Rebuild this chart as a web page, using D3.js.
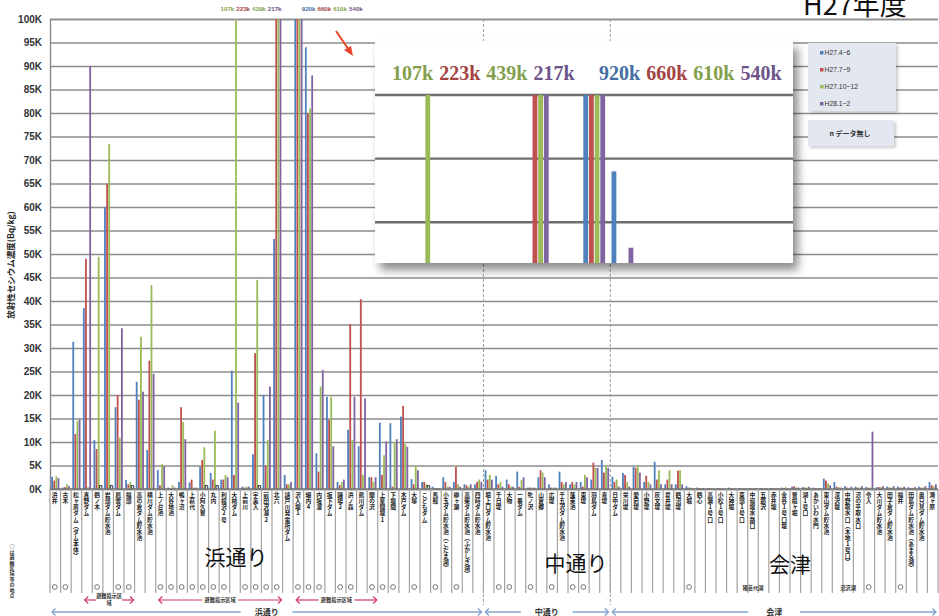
<!DOCTYPE html>
<html>
<head>
<meta charset="utf-8">
<script src="https://cdn.jsdelivr.net/npm/d3@7"></script>
<style>
  html, body { margin: 0; padding: 0; background: #fff; }
  svg { display: block; font-family: "Liberation Sans", "Noto Sans CJK JP", sans-serif; }
  text.vt { writing-mode: vertical-rl; text-orientation: upright; }
</style>
</head>
<body>
<svg id="chart" width="939" height="616"></svg>
<script>
// Sampling points (浜通り 41, 中通り 12, 会津 31)
const categories = [
  "浜井","古木","松ヶ房ダム(ダム本体)","真野ダム","鶴ノ木","岩部ダム貯水池","鳳雲ダム","福部","高の倉ダム貯水池","横川ダム貯水池",
  "上ノ台池","大谷地池","鴨ヶ沼","上萩代","小阿久曽","丸内","利根沢2号","大柿ダム","上前川","宇美入",
  "前田沢溜2","北六","請戸川発電所ダム","沢入堰1","細内4","内坂溜","坂下ダム","踊場2","浜ノ森","熊川ダム",
  "関の沢","上星間堰1","下堰間","木戸ダム","大塚","こどもダム","馬鞍","小玉ダム貯水池(こだま湖)","柳ヶ瀬","高柴ダム貯水池(ふかしぎ湖)",
  "四時ダム貯水池",
  "堀上口ダム貯水池","千日堤","大物","一番ダム","牝ノ沢","山倉郷","広堤","千五沢ダム貯水池","蓬莱池","東堤","羽鳥ダム","青堤",
  "日中ダム","栄川堤","愛宕堤","小野堤","灰文堤","夏井堤","鶴沼堤","大堀","鶴心","高瀬1号口",
  "小松1号口","大神堀","東部1号口","中嶺堰水路口","五郎沢","赤井堰","金谷1号口堰","曽根ヶ堀","湖1号口","あかいわ水門",
  "東山ダム貯水池","深沢堰","中野取水口(木地1号口)","沼の平取水口","令入","大川ダム貯水池","田子倉ダム貯水池","福井","田島ダム貯水池(あまる湖)","奥只見ダム貯水池",
  "滝ヶ原"
];

const seriesNames = ["H27.4~6", "H27.7~9", "H27.10~12", "H28.1~2"];
const seriesColors = ["#4f81bd", "#c0504d", "#9bbb59", "#8064a2"];

// Radiocesium concentration, thousands of Bq/kg (null = no data)
const q1 = [2.6,0.3,31.3,38.5,10.4,60.0,17.4,1.9,22.8,8.3,
  4.0,0.3,1.5,1.4,4.7,3.4,2.0,25.2,0.5,7.4,
  20.0,53.2,3.0,920,94.0,7.6,19.6,1.5,12.6,9.1,
  2.5,14.1,14.0,15.4,2.1,1.5,0.5,2.5,1.5,1.0,
  1.0,
  4.0,2.8,2.0,3.7,0.3,2.5,1.0,3.7,1.0,1.5,2.0,6.2,
  2.6,3.4,4.7,1.5,5.8,1.0,1.0,0.6,0.3,0.2,
  0.2,0.3,0.2,0.2,0.2,0.2,0.3,0.5,0.4,0.3,
  2.2,1.5,0.6,0.5,0.4,0.4,0.5,0.5,0.4,0.5,
  1.5];
const q2 = [1.8,0.4,11.7,49.0,8.5,65.0,20.0,1.0,19.0,27.3,
  0.8,0.2,17.4,2.0,6.2,2.0,2.0,3.0,0.3,28.9,
  5.0,223,1.0,660,80.0,3.7,14.7,0.8,35.1,40.4,
  2.5,3.0,0.5,17.7,1.0,1.5,0.2,1.5,4.7,0.8,
  1.5,
  2.0,1.0,1.0,0.5,0.3,4.0,0.3,1.5,1.5,0.5,5.6,3.5,
  1.5,3.0,4.5,2.8,2.0,2.0,3.9,0.3,0.2,0.2,
  0.1,0.2,0.1,0.1,0.1,0.2,0.2,0.6,0.3,0.2,
  1.8,0.5,0.3,0.3,0.3,0.4,0.3,0.3,0.2,0.3,
  0.8];
const q3 = [2.7,1.0,14.5,0.4,49.4,73.4,10.9,1.5,32.4,43.4,
  5.3,0.8,14.3,0.3,8.9,12.4,3.0,107,0.5,44.5,
  10.4,439,1.0,610,81.0,21.8,19.6,1.5,10.4,3.0,
  1.5,7.2,10.0,9.6,4.9,1.0,0.2,0.5,1.0,0.5,
  2.0,
  3.0,1.5,0.5,2.0,0.3,3.5,0.3,1.0,1.0,3.0,4.5,5.0,
  2.0,1.5,4.9,1.5,4.0,4.0,4.0,0.3,0.2,0.1,
  0.1,0.1,0.1,0.2,0.1,0.1,0.4,0.3,0.3,0.2,
  1.2,0.4,0.2,0.3,0.3,0.4,0.3,0.3,0.2,0.3,
  0.6];
const q4 = [2.3,0.6,14.8,90.0,null,null,34.2,null,20.7,24.5,
  4.8,0.3,10.6,0.3,null,null,2.5,18.4,0.5,null,
  21.8,217,1.5,540,88.0,25.3,9.1,2.0,19.6,19.3,
  2.5,10.1,10.6,9.0,4.0,null,0.2,0.5,0.5,1.0,
  1.5,
  2.0,0.5,0.5,2.5,0.3,2.5,0.3,1.5,1.5,2.5,4.5,4.5,
  0.5,0.5,3.5,1.0,1.0,1.0,1.0,0.2,0.2,0.1,
  0.1,0.1,0.1,0.1,0.1,0.1,0.2,0.3,0.5,0.2,
  0.8,0.3,0.5,0.6,12.2,0.6,0.6,0.5,0.4,0.6,
  1.0];

const yTicks = d3.range(0, 101, 5);
const yTickLabels = yTicks.map(d => d + "K");

// Regions: first and last category index
const regionNames = ["浜通り", "中通り", "会津"];
const regionFirst = [0, 41, 53];
const regionLast = [40, 52, 83];

// Evacuation-order zones (category index ranges) and points inside such zones
const zoneFirst = [3, 10, 23];
const zoneLast = [7, 21, 30];
const zoneMarked = [0,1,4,6,7,10,11,12,13,14,15,16,18,19,20,21,23,24,25,27,28,30,31,32,34,36,38,42,43,45,47,49,50,60,77,80];

// Sub-area notes in 会津
const subAreaNames = ["猪苗代湖", "沼沢湖"];
const subAreaAt = [66, 75];

const series = [q1, q2, q3, q4];

// ---------- layout ----------
const M = { left: 50, right: 938, top: 19, bottom: 489 };
const svg = d3.select("#chart");
const JP = "Noto Sans CJK JP, sans-serif";

const defs = svg.append("defs");
const shadow = defs.append("filter").attr("id", "shadow")
  .attr("x", "-10%").attr("y", "-10%").attr("width", "130%").attr("height", "135%");
shadow.append("feDropShadow").attr("dx", 5).attr("dy", 7).attr("stdDeviation", 5)
  .attr("flood-color", "#000").attr("flood-opacity", 0.45);
const softShadow = defs.append("filter").attr("id", "soft")
  .attr("x", "-10%").attr("y", "-10%").attr("width", "130%").attr("height", "140%");
softShadow.append("feDropShadow").attr("dx", 2).attr("dy", 2).attr("stdDeviation", 1.5)
  .attr("flood-color", "#000").attr("flood-opacity", 0.2);

// Top-to-bottom Japanese text
const verticalForms = { "(": "︵", ")": "︶", "ー": "︱" };
function vtext(g, str, x, yTop, fs, spacing, attrs) {
  const t = g.append("text").attr("class", "vt")
    .attr("x", x).attr("y", yTop)
    .attr("font-size", fs).attr("font-family", JP)
    .attr("letter-spacing", spacing)
    .text(Array.from(str).map(ch => verticalForms[ch] || ch).join(""));
  Object.entries(attrs || {}).forEach(([k, v]) => t.attr(k, v));
  return t;
}

const x0 = d3.scaleBand().domain(d3.range(categories.length)).range([M.left, M.right]);
const bw = x0.bandwidth();
const x1 = d3.scaleBand().domain(d3.range(4)).range([1.2, bw - 1.2]).paddingInner(0.15);
const y = d3.scaleLinear().domain([0, 100]).range([M.bottom, M.top]);

// Gridlines + tick labels
const yAxis = d3.axisLeft(y).tickValues(yTicks)
  .tickFormat((d, i) => yTickLabels[i])
  .tickSize(-(M.right - M.left)).tickPadding(8);
const gAxis = svg.append("g").attr("transform", `translate(${M.left},0)`).call(yAxis);
gAxis.select(".domain").attr("stroke", "#8a8a8a").attr("stroke-width", 1.4);
gAxis.selectAll(".tick line").attr("stroke", "#8c8c8c").attr("stroke-width", 1.4);
gAxis.selectAll(".tick text").attr("font-size", 10).attr("font-weight", "bold")
  .attr("fill", "#333").attr("font-family", "Liberation Sans, sans-serif");

// Y axis title
svg.append("text")
  .attr("transform", "translate(14,265) rotate(-90)")
  .attr("text-anchor", "middle")
  .attr("font-size", 8.5).attr("font-weight", "bold").attr("fill", "#222")
  .attr("font-family", JP)
  .text("放射性セシウム濃度(Bq/kg)");

// Region separators (dashed)
regionFirst.slice(1).forEach(i => {
  svg.append("line")
    .attr("x1", x0(i)).attr("x2", x0(i)).attr("y1", M.top).attr("y2", 605)
    .attr("stroke", "#9a9a9a").attr("stroke-width", 1).attr("stroke-dasharray", "3,2");
});

// Bars
const barData = [];
series.forEach((arr, s) => arr.forEach((v, i) => barData.push({ i, s, v })));
barData.sort((a, b) => a.i - b.i || a.s - b.s);

svg.append("g").selectAll("rect")
  .data(barData.filter(d => d.v != null))
  .join("rect")
  .attr("x", d => x0(d.i) + x1(d.s))
  .attr("width", x1.bandwidth())
  .attr("y", d => y(Math.min(d.v, 100)))
  .attr("height", d => y(0) - y(Math.min(d.v, 100)))
  .attr("fill", d => seriesColors[d.s]);

// "n" = no data markers
svg.append("g").selectAll("text")
  .data(barData.filter(d => d.v == null))
  .join("text")
  .attr("x", d => x0(d.i) + x1(d.s) + x1.bandwidth() / 2)
  .attr("y", M.bottom - 0.5)
  .attr("text-anchor", "middle")
  .attr("font-size", 7).attr("font-weight", "bold").attr("fill", "#222")
  .text("n");

// Baseline
svg.append("line").attr("x1", M.left).attr("x2", M.right).attr("y1", y(0)).attr("y2", y(0))
  .attr("stroke", "#777").attr("stroke-width", 1.4);

// Category label cells
const gCells = svg.append("g");
gCells.selectAll("line")
  .data(d3.range(categories.length + 1))
  .join("line")
  .attr("x1", i => i < categories.length ? x0(i) : M.right)
  .attr("x2", i => i < categories.length ? x0(i) : M.right)
  .attr("y1", M.bottom).attr("y2", 593)
  .attr("stroke", "#a2a2a2").attr("stroke-width", 1.2);

categories.forEach((name, i) => {
  vtext(gCells, name, x0(i) + bw * 0.45, 492, 5.8, 0.3,
        { "font-weight": "bold", fill: "#222" });
});

// Evacuation-zone point markers
svg.append("g").selectAll("circle")
  .data(zoneMarked)
  .join("circle")
  .attr("cx", i => x0(i) + bw / 2 - 0.5)
  .attr("cy", 587)
  .attr("r", 2.4)
  .attr("fill", "#fff").attr("stroke", "#555").attr("stroke-width", 0.8);

vtext(svg, "○は避難区域等の地点", 12, 544, 5, 0.4, { "font-weight": "bold", fill: "#333" });

// Sub-area notes (会津)
subAreaNames.forEach((name, k) => {
  svg.append("text")
    .attr("x", x0(subAreaAt[k]) + bw / 2).attr("y", 590)
    .attr("text-anchor", "middle")
    .attr("font-size", 5.2).attr("font-weight", "bold").attr("fill", "#333")
    .attr("font-family", JP)
    .text(name);
});

// Double-headed arrows with a centered label
function arrow(xa, xb, yy, color, lw, fs, gap, lines) {
  const g = svg.append("g");
  const mid = (xa + xb) / 2;
  g.append("line").attr("x1", xa).attr("x2", mid - gap).attr("y1", yy).attr("y2", yy)
    .attr("stroke", color).attr("stroke-width", lw);
  g.append("line").attr("x1", mid + gap).attr("x2", xb).attr("y1", yy).attr("y2", yy)
    .attr("stroke", color).attr("stroke-width", lw);
  const h = 3.5;
  g.append("path").attr("d", `M${xa + h},${yy - h}L${xa},${yy}L${xa + h},${yy + h}`)
    .attr("fill", "none").attr("stroke", color).attr("stroke-width", lw);
  g.append("path").attr("d", `M${xb - h},${yy - h}L${xb},${yy}L${xb - h},${yy + h}`)
    .attr("fill", "none").attr("stroke", color).attr("stroke-width", lw);
  const t = g.append("text").attr("x", mid).attr("text-anchor", "middle")
    .attr("font-size", fs).attr("font-weight", "bold").attr("fill", "#333")
    .attr("font-family", JP);
  const n = lines.length;
  lines.forEach((ln, k) => {
    t.append("tspan").attr("x", mid).attr("y", yy + fs * 0.35 + (k - (n - 1) / 2) * (fs + 1.5)).text(ln);
  });
}

zoneFirst.forEach((a, k) => {
  const b = zoneLast[k];
  const xa = x0(a) + 3, xb = x0(b) + bw - 1;
  const narrow = (xb - xa) < 60;
  arrow(xa, xb, 600, "#d2385e", 1.2, 5.2, narrow ? 13 : 18,
        narrow ? ["避難指示区", "域"] : ["避難指示区域"]);
});

regionNames.forEach((name, k) => {
  const xa = x0(regionFirst[k]) + 2, xb = x0(regionLast[k]) + bw - 2;
  arrow(xa, xb, 612, "#86a3cc", 1.4, 8, 26, [name]);
});

// Large region captions
const captionPos = [[236, 565], [576, 571], [790, 572]];
regionNames.forEach((name, k) => {
  svg.append("text")
    .attr("x", captionPos[k][0]).attr("y", captionPos[k][1])
    .attr("text-anchor", "middle")
    .attr("font-size", 21).attr("fill", "#111")
    .attr("font-family", JP)
    .text(name);
});

// Off-scale values written above the plot
const overflow = barData.filter(d => d.v != null && d.v > 100);
const breakAt = 23;
const groupA = overflow.filter(d => d.i < breakAt);
const groupB = overflow.filter(d => d.i >= breakAt);
function overflowRow(items, xPos, yPos, anchor, fs, family, gapDx, weight) {
  const t = svg.append("text").attr("x", xPos).attr("y", yPos)
    .attr("text-anchor", anchor).attr("font-size", fs).attr("font-weight", weight)
    .attr("font-family", family);
  items.forEach((d, k) => {
    t.append("tspan").attr("dx", k ? gapDx : 0)
      .attr("fill", d3.color(seriesColors[d.s]).darker(0.45))
      .text(d.v + "k");
  });
  return t;
}
overflowRow(groupA, x0(21) + bw - 1, 11, "end", 6.2, "Liberation Sans, sans-serif", 2, "bold");
overflowRow(groupB, x0(23) + bw - 2, 11, "start", 6.2, "Liberation Sans, sans-serif", 2, "bold");

// Pointer arrow to the magnified view
svg.append("line").attr("x1", 336).attr("y1", 31).attr("x2", 349).attr("y2", 50)
  .attr("stroke", "#e8442c").attr("stroke-width", 2);
svg.append("path").attr("d", "M353,56L344,50L351,46Z").attr("fill", "#e8442c");

// Magnified view of the off-scale bars
const inset = { x: 375, y: 41, w: 418, h: 222 };
const xi = d3.scaleLinear().domain([216.3, 372.9]).range([inset.x, inset.x + inset.w]);
const yi = d3.scaleLinear().domain([86.8, 100]).range([inset.y + inset.h, 95]);
const kx = (xi(1) - xi(0));

defs.append("clipPath").attr("id", "insetClip").append("rect")
  .attr("x", inset.x).attr("y", inset.y).attr("width", inset.w).attr("height", inset.h);

svg.append("rect").attr("x", inset.x).attr("y", inset.y)
  .attr("width", inset.w).attr("height", inset.h)
  .attr("fill", "#fff").attr("filter", "url(#shadow)");

const gIn = svg.append("g").attr("clip-path", "url(#insetClip)");
gIn.selectAll("line.ig")
  .data([90, 95, 100])
  .join("line").attr("class", "ig")
  .attr("x1", inset.x).attr("x2", inset.x + inset.w)
  .attr("y1", d => yi(d)).attr("y2", d => yi(d))
  .attr("stroke", "#6e6e6e").attr("stroke-width", 2.4);
gIn.selectAll("rect")
  .data(barData.filter(d => d.v != null && d.v > 86.8))
  .join("rect")
  .attr("x", d => xi(x0(d.i) + x1(d.s)))
  .attr("width", x1.bandwidth() * kx)
  .attr("y", d => yi(Math.min(d.v, 100)))
  .attr("height", d => yi(86.8) - yi(Math.min(d.v, 100)) + 2)
  .attr("fill", d => seriesColors[d.s]);

overflowRow(groupA, inset.x + 17, 80, "start", 20, "Liberation Serif, serif", 6, "bold");
overflowRow(groupB, inset.x + 224, 80, "start", 20, "Liberation Serif, serif", 6, "bold");

// Legend
const lg = svg.append("g");
lg.append("rect").attr("x", 808).attr("y", 43).attr("width", 88).attr("height", 68)
  .attr("fill", "#e3e7ef").attr("filter", "url(#soft)");
seriesNames.forEach((name, s) => {
  const yy = 53 + s * 17;
  lg.append("rect").attr("x", 820).attr("y", yy - 2).attr("width", 3.5).attr("height", 3.5)
    .attr("fill", seriesColors[s]);
  lg.append("text").attr("x", 824.5).attr("y", yy + 2)
    .attr("font-size", 6.8).attr("fill", "#333").text(name);
});
lg.append("rect").attr("x", 808).attr("y", 120).attr("width", 86).attr("height", 26)
  .attr("fill", "#e3e7ef").attr("filter", "url(#soft)");
lg.append("text").attr("x", 850).attr("y", 136).attr("text-anchor", "middle")
  .attr("font-size", 7).attr("font-weight", "bold").attr("fill", "#333")
  .attr("font-family", JP)
  .text("n データ無し");

// Title
svg.append("text").attr("x", 803).attr("y", 15)
  .attr("font-size", 27).attr("fill", "#111")
  .attr("font-family", JP)
  .text("H27年度");
</script>
</body>
</html>
